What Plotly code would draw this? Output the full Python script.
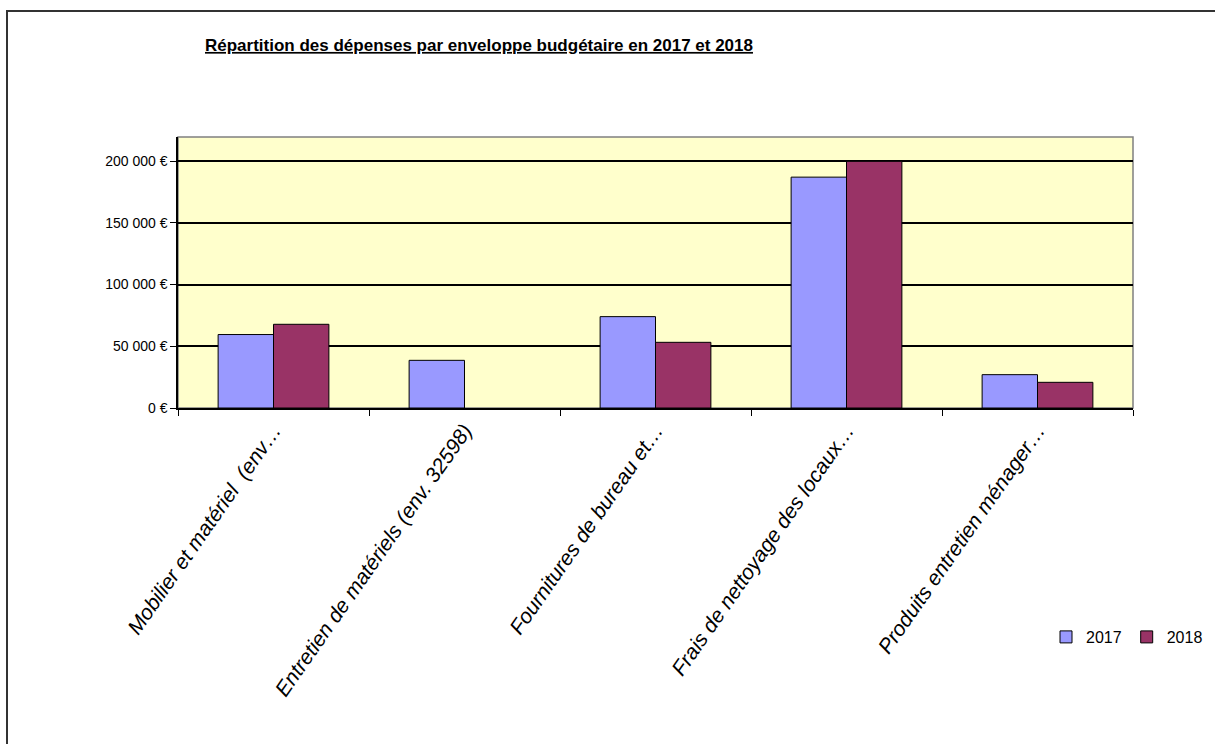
import plotly.graph_objects as go

# Budget envelopes and yearly spending (EUR)
categories = [
    "Mobilier et matériel  (env…",
    "Entretien de matériels (env. 32598)",
    "Fournitures de bureau et…",
    "Frais de nettoyage des locaux…",
    "Produits entretien ménager…",
]
depenses_2017 = [59500, 38600, 74000, 187000, 27000]
depenses_2018 = [67800, None, 53200, 199800, 20800]

y_ticks = [0, 50000, 100000, 150000, 200000]
y_tick_labels = ["0 €", "50 000 €", "100 000 €", "150 000 €", "200 000 €"]

W, H = 1215, 744
L, R, T, B = 178, 82, 137, 336
pw, ph = W - L - R, H - T - B

SANS = "Liberation Sans, Arial, sans-serif"

fig = go.Figure()
fig.add_trace(go.Bar(
    name="2017", x=categories, y=depenses_2017,
    marker=dict(color="#9999FF", line=dict(color="#000000", width=1)),
))
fig.add_trace(go.Bar(
    name="2018", x=categories, y=depenses_2018,
    marker=dict(color="#993366", line=dict(color="#000000", width=1)),
))


def px_x(p):
    return (p - L) / pw


def px_y(p):
    return (T + ph - p) / ph


fig.update_layout(
    width=W, height=H,
    margin=dict(l=L, r=R, t=T, b=B, autoexpand=False),
    paper_bgcolor="#FFFFFF",
    plot_bgcolor="#FFFFCC",
    barmode="group",
    bargap=0.42,
    bargroupgap=0,
    title=dict(
        text="<b><u>Répartition des dépenses par enveloppe budgétaire en 2017 et 2018</u></b>",
        font=dict(family=SANS, size=17, color="#000000"),
        xref="paper", x=px_x(205), xanchor="left",
        yref="container", y=1 - 45 / H, yanchor="middle",
    ),
    showlegend=True,
    legend=dict(
        orientation="h",
        x=px_x(1046), xanchor="left",
        y=px_y(637), yanchor="middle",
        font=dict(family=SANS, size=16, color="#000000"),
        bgcolor="rgba(0,0,0,0)",
        itemwidth=30,
        tracegroupgap=0,
    ),
    xaxis=dict(
        type="category",
        tickvals=categories,
        ticktext=["<i>" + c + "</i>" for c in categories],
        tickson="boundaries",
        ticks="outside", ticklen=6, tickcolor="#000000", tickwidth=1,
        showline=True, linecolor="#000000", linewidth=1.5,
        showgrid=False,
        tickangle=-55,
        tickfont=dict(family=SANS, size=21, color="#000000", style="italic"),
    ),
    yaxis=dict(
        range=[0, 219500],
        tickvals=y_ticks, ticktext=y_tick_labels,
        ticks="outside", ticklen=6, tickcolor="#000000", tickwidth=1,
        showline=True, linecolor="#000000", linewidth=1.5,
        showgrid=True, gridcolor="#000000", gridwidth=1.5,
        zeroline=False,
        tickfont=dict(family=SANS, size=14, color="#000000"),
    ),
    shapes=[
        # plot area frame
        dict(type="rect", xref="paper", yref="paper", x0=0, x1=1, y0=0, y1=1,
             line=dict(color="#808080", width=1.5), layer="below"),
        # chart frame
        dict(type="rect", xref="paper", yref="paper",
             x0=px_x(7), x1=px_x(W + 10), y0=px_y(H + 10), y1=px_y(11),
             line=dict(color="#333333", width=2)),
    ],
)

fig.write_html("out.html")
